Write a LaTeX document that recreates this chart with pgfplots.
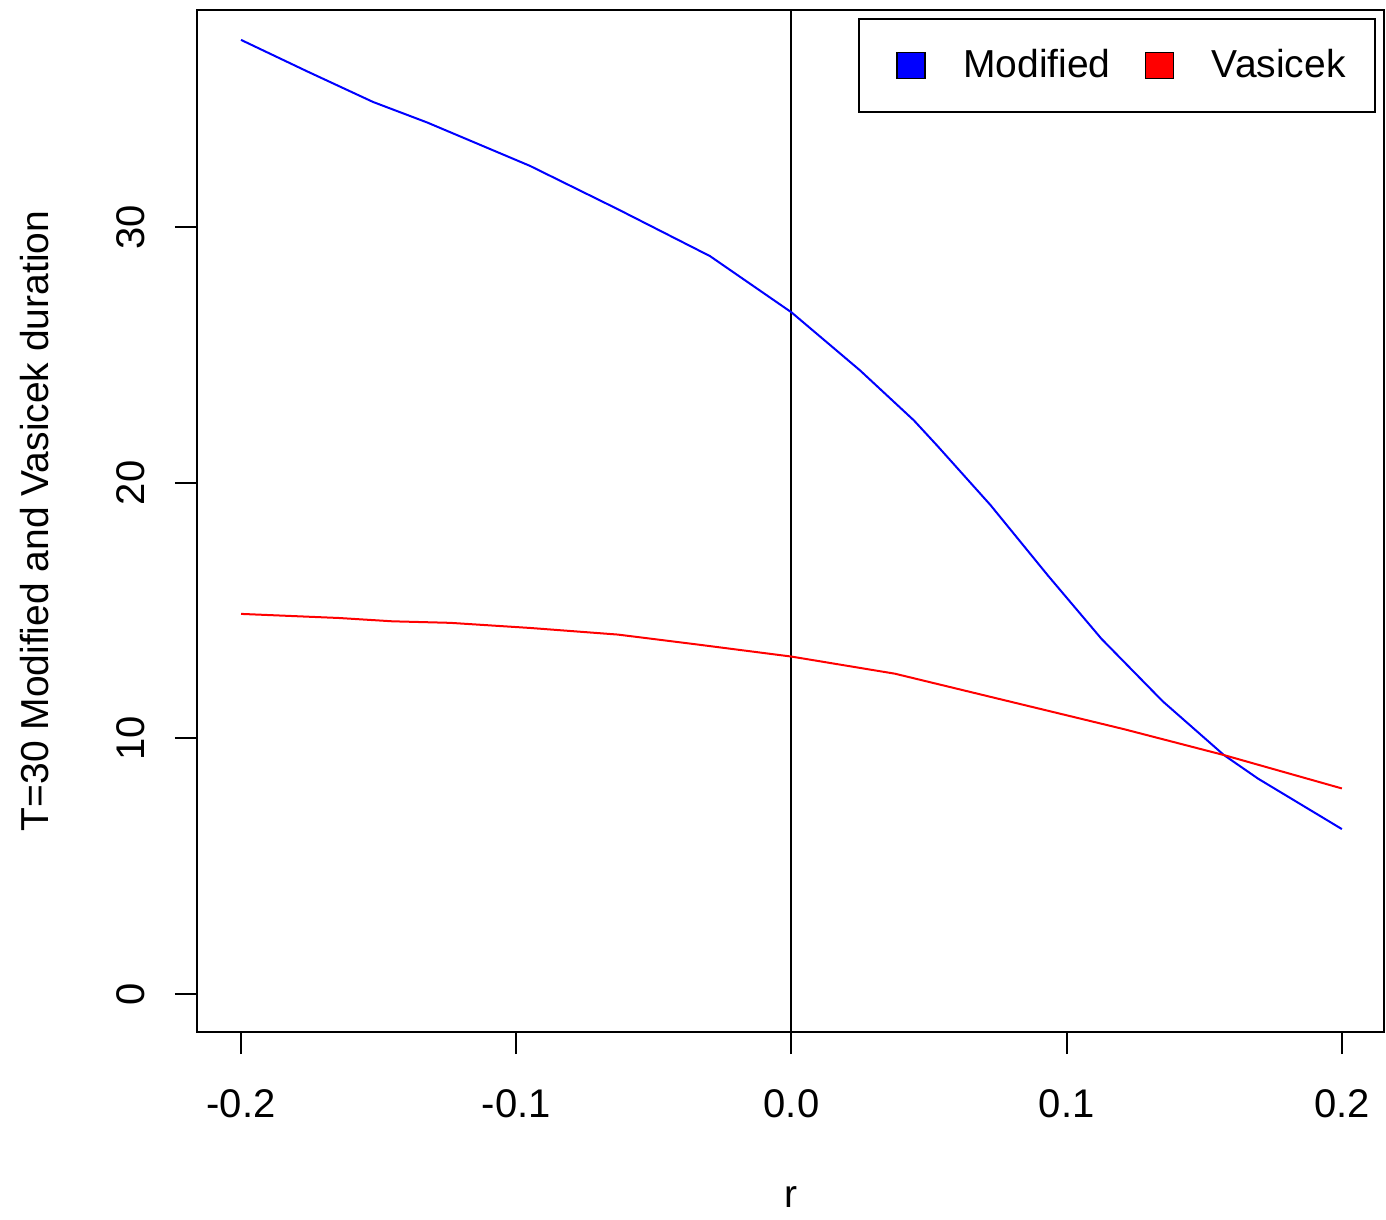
\documentclass[border=0pt]{standalone}
\usepackage{pgfplots}
\pgfplotsset{compat=1.18}
\usepackage{fontspec}
\setmainfont{Liberation Sans}
\begin{document}
\begin{tikzpicture}
\begin{axis}[
  scale only axis,
  width=356.1pt, height=306.6pt,
  xmin=-0.216, xmax=0.2153,
  ymin=-1.49, ymax=38.5,
  axis line style={line width=0.6pt},
  tick style={line width=0.6pt, black},
  tick align=outside,
  tick pos=left,
  major tick length=6.6pt,
  xtick={-0.2,-0.1,0,0.1,0.2},
  xticklabels={-0.2,-0.1,0.0,0.1,0.2},
  ytick={0,10,20,30},
  yticklabels={0,10,20,30},
  yticklabel style={rotate=90},
  xticklabel shift=7pt,
  yticklabel shift=5.4pt,
  ticklabel style={font=\fontsize{12}{14}\selectfont},
  /pgf/number format/assume math mode=true,
  xlabel={r},
  ylabel={T=30 Modified and Vasicek duration},
  xlabel style={yshift=-14pt},
  ylabel style={yshift=13.6pt},
  label style={font=\fontsize{11.7}{14}\selectfont},
  legend columns=2,
  legend style={draw=black, line width=0.6pt, at={(rel axis cs:1,1)}, xshift=-2.4pt, yshift=-2.4pt, anchor=north east,
    font=\fontsize{11.7}{14}\selectfont, inner xsep=6.8pt, inner ysep=7pt,
    /tikz/every even column/.append style={column sep=3.9pt}},
]
\addplot[black, line width=0.6pt, forget plot] coordinates {(0,-10) (0,50)};
\addplot[blue, line width=0.6pt,
  legend image code/.code={\path (0pt,0pt); \draw[fill=blue,draw=black,line width=0.5pt] (4.3pt,-3.9pt) rectangle (12.7pt,3.9pt); \path (21.9pt,0pt);}]
coordinates {
(-0.2,37.33) (-0.176,36.1) (-0.152,34.9) (-0.1324,34.1) (-0.095,32.4) (-0.063,30.7)
(-0.0296,28.87) (0.0,26.67) (0.0249,24.4) (0.0445,22.44) (0.0529,21.46) (0.0723,19.13)
(0.0932,16.37) (0.1126,13.9) (0.1349,11.45) (0.1571,9.35) (0.1696,8.42) (0.2,6.45)
};
\addlegendentry{Modified}
\addplot[red, line width=0.6pt,
  legend image code/.code={\path (0pt,0pt); \draw[fill=red,draw=black,line width=0.5pt] (4.3pt,-3.9pt) rectangle (12.7pt,3.9pt); \path (21.9pt,0pt);}]
coordinates {
(-0.2,14.87) (-0.1645,14.71) (-0.145,14.58) (-0.124,14.52) (-0.095,14.32) (-0.063,14.06)
(-0.034,13.67) (0.0,13.2) (0.0376,12.53) (0.079,11.45) (0.1208,10.36) (0.157,9.35) (0.2,8.04)
};
\addlegendentry{Vasicek}
\end{axis}
\path (-59.1pt,-54pt) rectangle (356.7pt,309.6pt);
\end{tikzpicture}
\end{document}
